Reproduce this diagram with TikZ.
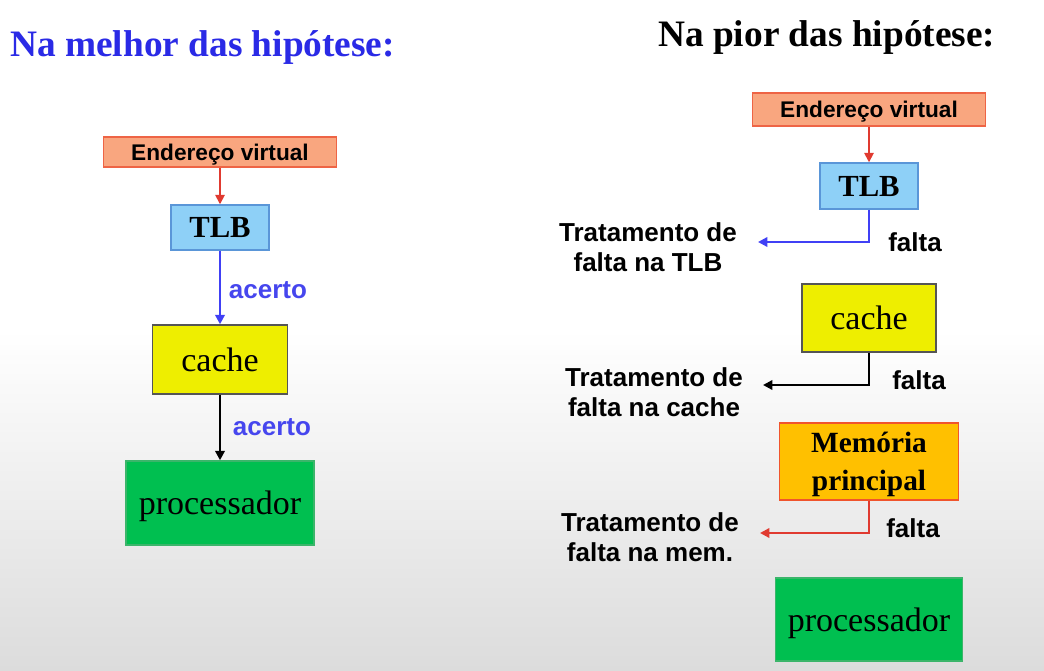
\documentclass[tikz,border=0pt]{standalone}
\usepackage{fontspec}
\setmainfont{Liberation Serif}
\setsansfont{Liberation Sans}
\usetikzlibrary{arrows.meta}
\newdimen\pxu \pxu=0.75pt
\definecolor{bgbot}{HTML}{DCDCDC}
\definecolor{salmonf}{HTML}{F9A67F}
\definecolor{salmond}{HTML}{EE6445}
\definecolor{tlbf}{HTML}{8ED0F7}
\definecolor{tlbd}{HTML}{5A96D8}
\definecolor{cachef}{HTML}{EEEE00}
\definecolor{cached}{HTML}{555555}
\definecolor{procf}{HTML}{00BF50}
\definecolor{procd}{HTML}{3BB56A}
\definecolor{memf}{HTML}{FFC000}
\definecolor{memd}{HTML}{F0552D}
\definecolor{arrblue}{HTML}{4040F5}
\definecolor{arrred}{HTML}{E03A30}
\definecolor{lblblue}{HTML}{4646EE}
\definecolor{ttlblue}{HTML}{2A2AE6}
\begin{document}
\begin{tikzpicture}[x=0.75pt,y=-0.75pt,
  box/.style={draw, line width=1.1pt, inner sep=0pt, align=center, text depth=0pt},
  evbox/.style={box, fill=salmonf, draw=salmond, minimum width=233\pxu,
    font=\sffamily\bfseries\fontsize{17}{20}\selectfont},
  tlbbox/.style={box, fill=tlbf, draw=tlbd, minimum width=98\pxu, minimum height=46\pxu,
    font=\bfseries\fontsize{23}{26}\selectfont},
  cachebox/.style={box, fill=cachef, draw=cached, font=\fontsize{25.5}{28}\selectfont},
  procbox/.style={box, fill=procf, draw=procd, font=\fontsize{25.5}{28}\selectfont},
  membox/.style={box, fill=memf, draw=memd, font=\bfseries\fontsize{22}{28.5}\selectfont},
  lbl/.style={inner sep=0pt, align=center, font=\sffamily\bfseries\fontsize{19.5}{22.5}\selectfont},
  tip/.style={-{Triangle[length=7pt,width=7pt]}},
  redarr/.style={tip, draw=arrred, line width=1.3pt},
  bluearr/.style={tip, draw=arrblue, line width=1.9pt},
  blackarr/.style={tip, draw=black, line width=1.9pt},
  title/.style={anchor=base west, inner sep=0pt, font=\bfseries\fontsize{28}{32}\selectfont}
]
\useasboundingbox (0,0) rectangle (1044,670);
\fill[white] (0,0) rectangle (1044,330);
\shade[top color=white, bottom color=bgbot] (0,330) rectangle (1044,670);

% titles
\node[title, text=ttlblue] (t1) at (10,57) {Na melhor das hipótese:};
\node[title, text=black] (t2) at (658,47) {Na pior das hipótese:};

% left column
\node[evbox, minimum height=30\pxu] (ev1) at (220,152) {Endereço virtual};
\node[tlbbox, minimum height=45\pxu] (tlb1) at (220,227.5) {TLB};
\node[cachebox, minimum width=135\pxu, minimum height=69\pxu] (cache1) at (220,359.5) {cache};
\node[procbox, minimum width=188\pxu, minimum height=84\pxu] (proc1) at (220,503) {processador};

\draw[redarr] (ev1.south) -- (tlb1.north);
\draw[bluearr] (tlb1.south) -- (cache1.north);
\draw[blackarr] (cache1.south) -- (proc1.north);
\node[lbl, text=lblblue] (ac1) at (268,290) {acerto};
\node[lbl, text=lblblue] (ac2) at (272,427) {acerto};

% right column
\node[evbox, minimum height=33\pxu] (ev2) at (869,109.5) {Endereço virtual};
\node[tlbbox] (tlb2) at (869,186) {TLB};
\node[cachebox, minimum width=134\pxu, minimum height=68\pxu] (cache2) at (869,318) {cache};
\node[membox, minimum width=179\pxu, minimum height=77\pxu] (mem2) at (869,461.5) {Memória\\principal};
\node[procbox, minimum width=187\pxu, minimum height=83\pxu] (proc2) at (869,619.5) {processador};

\draw[redarr] (ev2.south) -- (tlb2.north);

\node[lbl] (tr1) at (648,247) {Tratamento de\\falta na TLB};
\node[lbl] (tr2) at (654,392) {Tratamento de\\falta na cache};
\node[lbl] (tr3) at (650,537) {Tratamento de\\falta na mem.};
\node[lbl] (fa1) at (915,242) {falta};
\node[lbl] (fa2) at (919,380) {falta};
\node[lbl] (fa3) at (913,528) {falta};

\coordinate (tip1) at (758,242);
\coordinate (tip2) at (763,385);
\coordinate (tip3) at (760,533);
\draw[bluearr] (tlb2.south) |- (tip1);
\draw[blackarr] (cache2.south) |- (tip2);
\draw[redarr, line width=1.9pt] (mem2.south) |- (tip3);
\end{tikzpicture}
\end{document}
